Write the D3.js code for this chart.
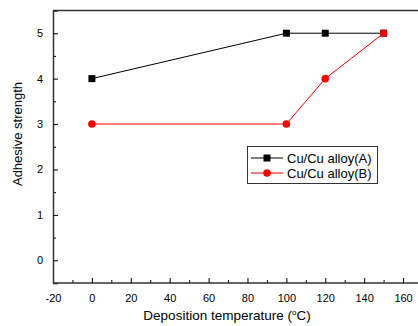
<!DOCTYPE html>
<html><head><meta charset="utf-8">
<script src="https://cdn.jsdelivr.net/npm/d3@7"></script>
<style>body{margin:0;background:#fff}svg{display:block}text{font-family:"Liberation Sans",Arial,sans-serif}</style>
</head><body><svg id="c" width="418" height="326"></svg>
<script>
const temps = [0, 100, 120, 150];
const seriesA = [4, 5, 5, 5];
const seriesB = [3, 3, 4, 5];
const seriesNames = ["Cu/Cu alloy(A)", "Cu/Cu alloy(B)"];
const xTicks = [-20, 0, 20, 40, 60, 80, 100, 120, 140, 160];
const yTicks = [0, 1, 2, 3, 4, 5];

const svg = d3.select("#c");
const x = d3.scaleLinear().domain([-20, 170]).range([53, 422.5]);
const y = d3.scaleLinear().domain([-0.5, 5.5]).range([283, 10.5]);
const axisColor = "#333";
const fmt = d => String(d);

// frame
svg.append("line").attr("x1", x(-20)).attr("x2", 418).attr("y1", y(5.5)).attr("y2", y(5.5)).attr("stroke", axisColor).attr("stroke-width", 1.5);

// minor ticks
const gx = svg.append("g").attr("transform", `translate(0,${y(-0.5)})`);
gx.call(d3.axisBottom(x).tickValues(d3.range(-10, 170, 20)).tickSize(-3).tickFormat(""));
gx.call(g => g.select(".domain").remove());
const gx2 = svg.append("g").attr("transform", `translate(0,${y(-0.5)})`);
gx2.call(d3.axisBottom(x).tickValues(xTicks).tickSize(-5).tickPadding(11).tickFormat(fmt));
gx2.select(".domain").attr("d", `M${x(-20)},0H418`);
const gy0 = svg.append("g").attr("transform", `translate(${x(-20)},0)`);
gy0.call(d3.axisLeft(y).tickValues(d3.range(-0.5, 5.6, 1)).tickSize(-3).tickFormat(""));
gy0.call(g => g.select(".domain").remove());
const gy = svg.append("g").attr("transform", `translate(${x(-20)},0)`);
gy.call(d3.axisLeft(y).tickValues(yTicks).tickSize(-5).tickPadding(10).tickFormat(fmt));
svg.selectAll(".domain").attr("stroke", axisColor).attr("stroke-width", 1.5);
svg.selectAll(".tick line").attr("stroke", "#000");
svg.selectAll(".tick text").attr("font-size", 11).attr("fill", "#000").attr("font-family", '"Liberation Sans",Arial,sans-serif');

// lines
const line = d3.line().x(d => x(d[0])).y(d => y(d[1]));
const dA = temps.map((t, i) => [t, seriesA[i]]);
const dB = temps.map((t, i) => [t, seriesB[i]]);
svg.append("path").datum(dA).attr("d", line).attr("fill", "none").attr("stroke", "#000").attr("stroke-width", 1);
svg.selectAll(".mA").data(dA).enter().append("rect").attr("x", d => x(d[0]) - 3.5).attr("y", d => y(d[1]) - 3.5).attr("width", 7).attr("height", 7).attr("fill", "#000");
svg.append("path").datum(dB).attr("d", line).attr("fill", "none").attr("stroke", "#f00").attr("stroke-width", 1);
svg.selectAll(".mB").data(dB).enter().append("circle").attr("cx", d => x(d[0])).attr("cy", d => y(d[1])).attr("r", 3.8).attr("fill", "#f00");

// legend
const lg = svg.append("g");
lg.append("rect").attr("x", 247.5).attr("y", 146.5).attr("width", 130).attr("height", 37).attr("fill", "#fff").attr("stroke", "#333").attr("stroke-width", 1);
[["#000", "sq"], ["#f00", "ci"]].forEach((s, i) => {
  const yy = 158 + i * 15;
  lg.append("line").attr("x1", 251).attr("x2", 283).attr("y1", yy).attr("y2", yy).attr("stroke", s[0]).attr("stroke-width", 1);
  if (s[1] === "sq") lg.append("rect").attr("x", 267 - 3.5).attr("y", yy - 3.5).attr("width", 7).attr("height", 7).attr("fill", s[0]);
  else lg.append("circle").attr("cx", 267).attr("cy", yy).attr("r", 3.8).attr("fill", s[0]);
  lg.append("text").attr("x", 287).attr("y", yy + 4.5).attr("font-size", 13).text(seriesNames[i]);
});

// axis titles
const xt = svg.append("text").attr("x", 227).attr("y", 320).attr("text-anchor", "middle").attr("font-size", 13.5);
xt.append("tspan").text("Deposition temperature (");
xt.append("tspan").attr("dy", -5).attr("font-size", 8).text("o");
xt.append("tspan").attr("dy", 5).text("C)");
svg.append("text").attr("transform", "translate(22,134) rotate(-90)").attr("text-anchor", "middle").attr("font-size", 13).text("Adhesive strength");
</script></body></html>
